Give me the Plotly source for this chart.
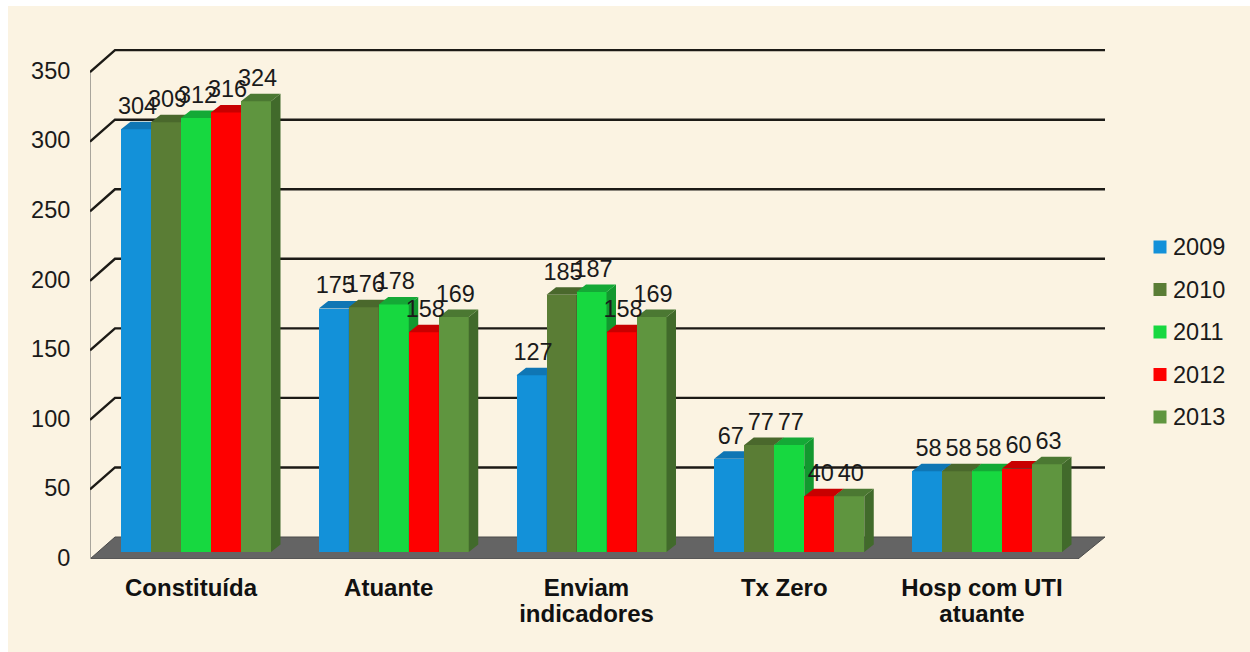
import plotly.graph_objects as go

categories = ["Constituída", "Atuante", "Enviam<br>indicadores", "Tx Zero", "Hosp com UTI<br>atuante"]
years = ["2009", "2010", "2011", "2012", "2013"]
v2009 = [304, 175, 127, 67, 58]
v2010 = [309, 176, 185, 77, 58]
v2011 = [312, 178, 187, 77, 58]
v2012 = [316, 158, 158, 40, 60]
v2013 = [324, 169, 169, 40, 63]
series = [v2009, v2010, v2011, v2012, v2013]
y_ticks = [0, 50, 100, 150, 200, 250, 300, 350]

front = ["#1391d9", "#5a7d35", "#17d840", "#fe0000", "#5f953f"]
top = ["#0f76b4", "#4a682c", "#14a936", "#c80000", "#4b7832"]
side = ["#0e6aa3", "#3f5a26", "#12982f", "#b00000", "#416a2b"]
legend_rows = [247, 289.5, 332, 374.5, 417]

W, H = 1250, 652
L, R, T, B = 90, 1105, 40, 559
PXC = 197.75          # px per category
PXV = 1.391           # px per value unit
X0 = 196              # px of category 0
Y0 = 552              # px of value 0
ux = lambda p: p / PXC
uy = lambda p: p / PXV
px = lambda p: (p - L) / (R - L)
py = lambda p: (B - p) / (B - T)
xr = [(L - X0) / PXC, (R - X0) / PXC]
yr = [(Y0 - B) / PXV, (Y0 - T) / PXV]
BW = ux(30)
DX, DY = ux(9.5), uy(7.5)
BACK_X0, BACK_X1 = (115 - X0) / PXC, (R - X0) / PXC
FRONT_X0, FRONT_X1 = (L - X0) / PXC, (1078 - X0) / PXC
BACK = uy(Y0 - 537)
FRONT = uy(Y0 - 559)

fig = go.Figure()

# floor
fig.add_trace(go.Scatter(x=[FRONT_X0, FRONT_X1, BACK_X1, BACK_X0, FRONT_X0],
                         y=[FRONT, FRONT, BACK, BACK, FRONT], fill="toself", mode="lines",
                         fillcolor="#646464", line=dict(color="#4a4a4a", width=1),
                         hoverinfo="skip", showlegend=False))
# left wall edge
fig.add_trace(go.Scatter(x=[FRONT_X0, FRONT_X0], y=[FRONT, 350 + FRONT], mode="lines",
                         line=dict(color="#a9a59c", width=2), hoverinfo="skip", showlegend=False))
# gridlines
gx, gy = [], []
for v in y_ticks:
    if v > 0:
        gx += [FRONT_X0, BACK_X0, BACK_X1, None]
        gy += [v + FRONT, v + BACK, v + BACK, None]
fig.add_trace(go.Scatter(x=gx, y=gy, mode="lines", line=dict(color="#1c1a16", width=2.4),
                         hoverinfo="skip", showlegend=False))

# each series lives on its own overlay, so later bars paint over earlier side faces
for k, vals in enumerate(series):
    suffix = str(k + 2)
    xs = [c + (k - 2) * BW for c in range(len(categories))]
    fig.add_trace(go.Bar(x=xs, y=vals, width=BW, name=years[k], marker=dict(color=front[k], line=dict(width=0)),
                         showlegend=False, xaxis="x" + suffix, yaxis="y" + suffix))
    tx, ty, sx, sy = [], [], [], []
    for x, v in zip(xs, vals):
        a, b = x - BW / 2, x + BW / 2
        tx += [a, b, b + DX, a + DX, a, None]
        ty += [v, v, v + DY, v + DY, v, None]
        sx += [b, b + DX, b + DX, b, b, None]
        sy += [v, v + DY, DY, 0, v, None]
    fig.add_trace(go.Scatter(x=sx, y=sy, mode="lines", fill="toself", fillcolor=side[k], line=dict(width=0),
                             hoverinfo="skip", showlegend=False, xaxis="x" + suffix, yaxis="y" + suffix))
    fig.add_trace(go.Scatter(x=tx, y=ty, mode="lines", fill="toself", fillcolor=top[k], line=dict(width=0),
                             hoverinfo="skip", showlegend=False, xaxis="x" + suffix, yaxis="y" + suffix))

# data labels sit on the top overlay
for k, vals in enumerate(series):
    xs = [c + (k - 2) * BW + ux(1.5) for c in range(len(categories))]
    fig.add_trace(go.Scatter(x=xs, y=[v + uy(21) for v in vals], mode="text", text=[str(v) for v in vals],
                             textposition="middle center", textfont=dict(size=23.5, color="#1a1a1a"),
                             hoverinfo="skip", showlegend=False, xaxis="x6", yaxis="y6"))

FONT = "Liberation Sans"
first_lines = [c.split("<br>")[0] for c in categories]
second_vals = [c for c, t in enumerate(categories) if "<br>" in t]
second_lines = [categories[c].split("<br>")[1] for c in second_vals]
cat_font = dict(size=24, family=FONT, color="#111", weight="bold")

shapes = [dict(type="rect", xref="paper", yref="paper", x0=px(8), x1=px(W), y0=py(6), y1=py(H),
               fillcolor="#fbf3e2", line=dict(width=0), layer="below")]
annotations = []
for year, color, row in zip(years, front, legend_rows):
    shapes.append(dict(type="rect", xref="paper", yref="paper", x0=px(1153.5), x1=px(1166.5),
                       y0=py(row + 6.5), y1=py(row - 6.5), fillcolor=color, line=dict(width=0)))
    annotations.append(dict(xref="paper", yref="paper", x=px(1171), y=py(row), text=year, showarrow=False,
                            xanchor="left", yanchor="middle", font=dict(size=23.5, family=FONT, color="#1a1a1a")))

layout = dict(
    width=W, height=H, margin=dict(l=L, r=W - R, t=T, b=H - B, pad=0),
    paper_bgcolor="#ffffff", plot_bgcolor="rgba(0,0,0,0)",
    font=dict(family=FONT, color="#1a1a1a", size=22), bargap=0,
    showlegend=False, shapes=shapes, annotations=annotations,
    xaxis=dict(range=xr, tickmode="array", tickvals=[c - ux(5) for c in range(5)], ticktext=first_lines,
               showgrid=False, zeroline=False, showline=False, ticks="outside", ticklen=7, tickcolor="rgba(0,0,0,0)",
               tickfont=cat_font),
    yaxis=dict(range=yr, tickmode="array", tickvals=[v - 4 for v in y_ticks], ticktext=[str(v) for v in y_ticks],
               showgrid=False, zeroline=False, showline=False, ticks="outside", ticklen=14, tickcolor="rgba(0,0,0,0)",
               tickfont=dict(size=23.5, family=FONT, color="#1a1a1a")),
)
for k in range(2, 7):
    layout[f"xaxis{k}"] = dict(range=xr, overlaying="x", visible=False, anchor=f"y{k}")
    layout[f"yaxis{k}"] = dict(range=yr, overlaying="y", visible=False, anchor=f"x{k}")
# second lines of the wrapped category labels, at the reference's tighter line spacing
layout["xaxis2"] = dict(range=xr, overlaying="x", anchor="y2", side="bottom", tickmode="array",
                        tickvals=[c - ux(5) for c in second_vals], ticktext=second_lines,
                        showgrid=False, zeroline=False, showline=False, ticks="outside", ticklen=33,
                        tickcolor="rgba(0,0,0,0)", tickfont=cat_font)
fig.update_layout(**layout)
fig.write_html("out.html", config={"displayModeBar": False}, post_script="document.body.style.margin='0';")
